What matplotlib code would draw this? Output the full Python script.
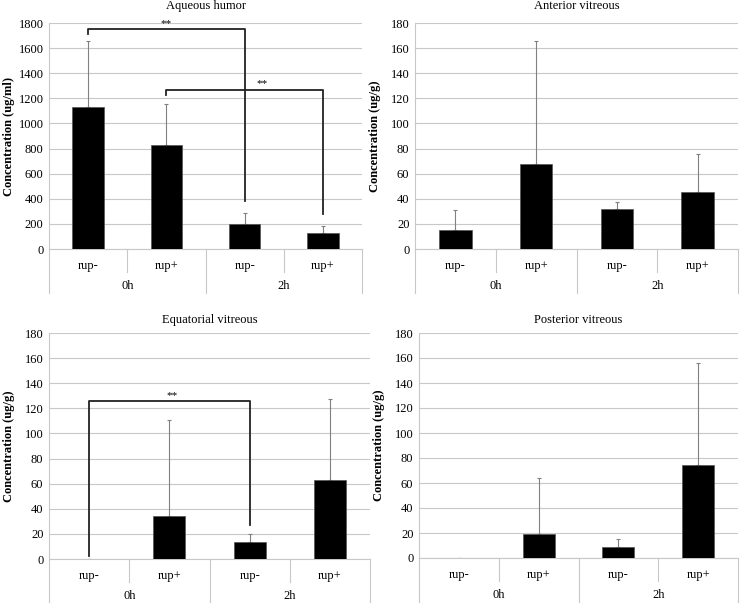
import matplotlib
matplotlib.use('Agg')
import matplotlib.pyplot as plt
import matplotlib.transforms as mtransforms

plt.rcParams['font.family'] = ['Liberation Serif', 'DejaVu Serif']

# %%
categories = ['rup-', 'rup+', 'rup-', 'rup+']
groups = ['0h', '2h']

titles = ['Aqueous humor', 'Anterior vitreous', 'Equatorial vitreous', 'Posterior vitreous']
ylabels = ['Concentration (ug/ml)', 'Concentration (ug/g)', 'Concentration (ug/g)', 'Concentration (ug/g)']
ymax = [1800, 180, 180, 180]
ystep = [200, 20, 20, 20]

aqueous_mean = [1130, 832, 199, 127]
aqueous_sd = [527, 319, 85, 53]
anterior_mean = [15.4, 67.9, 31.5, 45.1]
anterior_sd = [15.4, 98, 5.6, 30.2]
equatorial_mean = [0.3, 34.2, 13.3, 62.7]
equatorial_sd = [0, 76.8, 6.6, 65]
posterior_mean = [0.3, 19.4, 8.5, 74.7]
posterior_sd = [0, 44.4, 6.4, 81.3]

# significance brackets: (panel, left bar, right bar, top, left end, right end, star x)
brackets = [
    (0, 0, 2, 1750, 1715, 382, 1.0),
    (0, 1, 3, 1270, 1225, 276, 2.22),
    (2, 0, 2, 126, 2.7, 27.3, 1.03),
]

means = [aqueous_mean, anterior_mean, equatorial_mean, posterior_mean]
sds = [aqueous_sd, anterior_sd, equatorial_sd, posterior_sd]

# %%
W, H = 740, 603
fig = plt.figure(figsize=(W / 100, H / 100), dpi=100)

# axes boxes in pixels (left, top, right, bottom)
boxes = [(49, 23, 362, 249), (415, 23, 738, 249), (49, 333, 370, 559), (419, 333, 738, 558)]
title_pad = [10, 10, 7, 7]

grid_col = '#c8c8c8'
axes = []
for i, (l, t, r, b) in enumerate(boxes):
    ax = fig.add_axes([l / W, 1 - b / H, (r - l) / W, (b - t) / H])
    axes.append(ax)
    x = list(range(4))
    ax.bar(x, means[i], width=0.4, color='black', edgecolor='#555555', linewidth=0.5, zorder=3)
    ax.errorbar(x, means[i], yerr=[[0] * 4, sds[i]], fmt='none', ecolor='#808080',
                elinewidth=0.8, capsize=1.5, capthick=0.8, zorder=2)
    ax.set_xlim(-0.5, 3.5)
    ax.set_ylim(0, ymax[i])
    ax.set_yticks(range(0, ymax[i] + 1, ystep[i]))
    ax.yaxis.grid(True, color=grid_col, linewidth=0.8, zorder=0)
    ax.set_axisbelow(True)
    ax.tick_params(axis='y', length=0, labelsize=9, pad=4)
    ax.set_xticks([])
    for s in ['top', 'right']:
        ax.spines[s].set_visible(False)
    ax.spines['left'].set_color(grid_col)
    ax.spines['bottom'].set_color(grid_col)
    ax.set_title(titles[i], fontsize=9, pad=title_pad[i])

    # category axis (two levels)
    trans = mtransforms.blended_transform_factory(ax.transData, ax.transAxes)
    ph = (b - t)
    short = -23 / ph
    long_ = -44 / ph
    for xs in [0.5, 2.5]:
        ax.plot([xs, xs], [0, short], color=grid_col, lw=0.8, transform=trans, clip_on=False)
    for xs in [-0.5, 1.5, 3.5]:
        ax.plot([xs, xs], [0, long_], color=grid_col, lw=0.8, transform=trans, clip_on=False)
    for j, c in enumerate(categories):
        ax.text(j, -17 / ph, c, transform=trans, ha='center', va='center', fontsize=9)
    for j, g in enumerate(groups):
        ax.text(0.5 + 2 * j, -37 / ph, g, transform=trans, ha='center', va='center', fontsize=9)

    fig.text((l - 40) / W, 1 - ((t + b) / 2) / H, ylabels[i], rotation=90, ha='center',
             va='center', fontsize=9, fontweight='bold')

# %%
for p, a, c, top, yl, yr, sx in brackets:
    ax = axes[p]
    ax.plot([a, a, c, c], [yl, top, top, yr], color='#222222', lw=1.3, zorder=4)
    ax.text(sx, top + ymax[p] * 0.005, '**', ha='center', va='bottom', fontsize=8, zorder=4)

plt.savefig('out.png', dpi=100)
